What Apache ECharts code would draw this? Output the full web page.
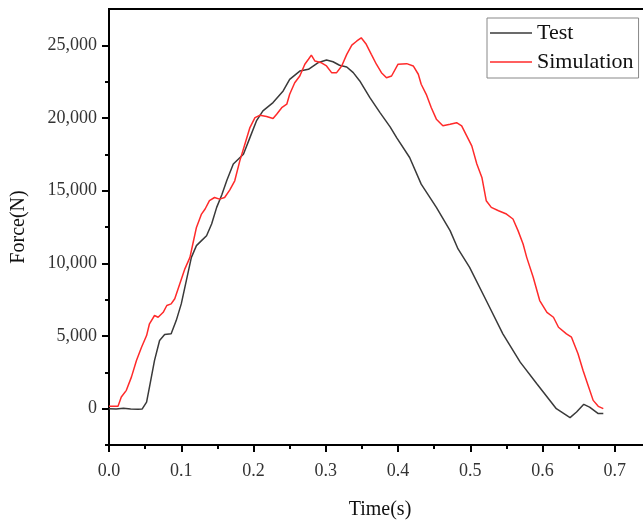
<!DOCTYPE html>
<html>
<head>
<meta charset="utf-8">
<script src="https://cdn.jsdelivr.net/npm/echarts@6/dist/echarts.min.js"></script>
<style>html,body{margin:0;padding:0;background:#fff}#c{width:643px;height:523px}</style>
</head>
<body>
<div id="c"></div>
<script>
const seriesNames = ['Test', 'Simulation'];
const testTime = [0, 0.01, 0.02, 0.03, 0.04, 0.046, 0.052, 0.056, 0.063, 0.070, 0.077, 0.086, 0.093, 0.100, 0.107, 0.114, 0.121, 0.128, 0.135, 0.142, 0.149, 0.156, 0.163, 0.172, 0.186, 0.195, 0.204, 0.213, 0.227, 0.241, 0.250, 0.264, 0.276, 0.289, 0.301, 0.310, 0.319, 0.329, 0.338, 0.347, 0.361, 0.375, 0.389, 0.398, 0.416, 0.432, 0.453, 0.472, 0.483, 0.499, 0.522, 0.545, 0.569, 0.592, 0.619, 0.638, 0.647, 0.657, 0.665, 0.677, 0.684];
const testForce = [0, -30, 30, -20, -40, -20, 450, 1480, 3320, 4690, 5100, 5150, 6060, 7210, 8810, 10410, 11220, 11560, 11900, 12710, 13850, 14700, 15700, 16830, 17510, 18650, 19800, 20490, 21060, 21860, 22660, 23230, 23350, 23800, 23990, 23870, 23630, 23510, 23120, 22550, 21400, 20370, 19390, 18650, 17280, 15450, 13850, 12250, 10990, 9720, 7440, 5150, 3200, 1720, 0, -620, -230, 300, 110, -340, -340];
const simTime = [0, 0.0125, 0.017, 0.024, 0.031, 0.038, 0.045, 0.052, 0.056, 0.063, 0.068, 0.075, 0.080, 0.086, 0.091, 0.098, 0.105, 0.112, 0.116, 0.121, 0.128, 0.133, 0.139, 0.146, 0.153, 0.160, 0.167, 0.174, 0.181, 0.188, 0.195, 0.202, 0.209, 0.218, 0.227, 0.232, 0.239, 0.246, 0.250, 0.257, 0.264, 0.271, 0.276, 0.280, 0.285, 0.294, 0.301, 0.308, 0.315, 0.322, 0.329, 0.336, 0.343, 0.349, 0.356, 0.363, 0.370, 0.377, 0.384, 0.391, 0.400, 0.412, 0.421, 0.428, 0.432, 0.439, 0.446, 0.453, 0.462, 0.472, 0.481, 0.488, 0.495, 0.502, 0.509, 0.516, 0.522, 0.529, 0.539, 0.550, 0.559, 0.566, 0.573, 0.578, 0.587, 0.596, 0.606, 0.615, 0.622, 0.633, 0.640, 0.649, 0.656, 0.663, 0.670, 0.677, 0.684];
const simForce = [160, 160, 800, 1260, 2170, 3320, 4230, 5030, 5840, 6410, 6290, 6630, 7100, 7210, 7560, 8590, 9620, 10410, 11330, 12470, 13390, 13740, 14310, 14530, 14420, 14530, 15040, 15680, 17050, 18200, 19340, 20030, 20190, 20100, 19960, 20260, 20710, 20950, 21630, 22430, 22890, 23700, 24040, 24330, 23920, 23800, 23580, 23120, 23120, 23580, 24380, 25020, 25300, 25520, 25070, 24380, 23700, 23120, 22770, 22890, 23700, 23740, 23580, 23010, 22320, 21630, 20710, 19920, 19460, 19570, 19680, 19460, 18770, 18080, 16830, 15910, 14310, 13850, 13620, 13390, 13050, 12250, 11330, 10410, 9040, 7440, 6630, 6290, 5600, 5150, 4920, 3780, 2630, 1600, 570, 160, 0];
const xMajorTicks = [0, 0.1, 0.2, 0.3, 0.4, 0.5, 0.6, 0.7];
const xMinorTicks = [0.05, 0.15, 0.25, 0.35, 0.45, 0.55, 0.65];
const yMajorTicks = [0, 5000, 10000, 15000, 20000, 25000];
const yMinorTicks = [-2500, 2500, 7500, 12500, 17500, 22500];

const FONT = 'Liberation Serif';
const chart = echarts.init(document.getElementById('c'), null, {renderer: 'canvas'});
const zip = (a, b) => a.map((v, i) => [v, b[i]]);
const axisLineStyle = {color: '#000', width: 2};
const baseX = {type: 'value', min: 0, max: 0.75, splitLine: {show: false}};
const baseY = {type: 'value', min: -2500, max: 27500, interval: 2500, splitLine: {show: false}};
chart.setOption({
  animation: false,
  backgroundColor: '#fff',
  grid: {left: 109, right: -8, top: 9, bottom: 78, show: true, borderColor: '#000', borderWidth: 2, containLabel: false, outerBoundsMode: 'none'},
  legend: {
    data: seriesNames.map(n => ({name: n, icon: 'rect'})), orient: 'vertical', left: 487, top: 18,
    padding: [4, 5, 5, 3], itemGap: 7, itemWidth: 42, itemHeight: 1.5,
    borderColor: '#888', borderWidth: 1, backgroundColor: '#fff',
    textStyle: {fontFamily: FONT, fontSize: 22, color: '#111', lineHeight: 22}
  },
  xAxis: [
    Object.assign({}, baseX, {
      name: 'Time(s)', nameLocation: 'middle', nameGap: 55,
      nameTextStyle: {fontFamily: FONT, fontSize: 20, color: '#111'},
      axisLine: {show: true, onZero: false, lineStyle: axisLineStyle},
      axisTick: {show: true, length: 7, customValues: xMajorTicks, lineStyle: {color: '#000', width: 2}},
      axisLabel: {customValues: xMajorTicks, formatter: v => v.toFixed(1), margin: 17, fontFamily: FONT, fontSize: 18, color: '#333'}
    }),
    Object.assign({}, baseX, {
      position: 'bottom',
      axisLine: {show: false, onZero: false},
      axisTick: {show: true, length: 4, customValues: xMinorTicks, lineStyle: {color: '#000', width: 2}},
      axisLabel: {show: false}
    })
  ],
  yAxis: [
    Object.assign({}, baseY, {
      name: 'Force(N)', nameLocation: 'middle', nameGap: 80,
      nameTextStyle: {fontFamily: FONT, fontSize: 20, color: '#111'},
      axisLine: {show: true, onZero: false, lineStyle: axisLineStyle},
      axisTick: {show: true, length: 7, customValues: yMajorTicks, lineStyle: {color: '#000', width: 2}},
      axisLabel: {customValues: yMajorTicks, formatter: v => v.toLocaleString('en-US'), margin: 12, fontFamily: FONT, fontSize: 18, color: '#333'}
    }),
    Object.assign({}, baseY, {
      position: 'left',
      axisLine: {show: false, onZero: false},
      axisTick: {show: true, length: 4, customValues: yMinorTicks, lineStyle: {color: '#000', width: 2}},
      axisLabel: {show: false}
    })
  ],
  series: [
    {name: seriesNames[0], type: 'line', xAxisIndex: 0, yAxisIndex: 0, data: zip(testTime, testForce), symbol: 'none', smooth: false, color: '#3a3a3a', lineStyle: {color: '#3a3a3a', width: 1.5}},
    {name: seriesNames[1], type: 'line', xAxisIndex: 0, yAxisIndex: 0, data: zip(simTime, simForce), symbol: 'none', smooth: false, color: '#ff2a2a', lineStyle: {color: '#ff2a2a', width: 1.5}}
  ]
});
</script>
</body>
</html>
